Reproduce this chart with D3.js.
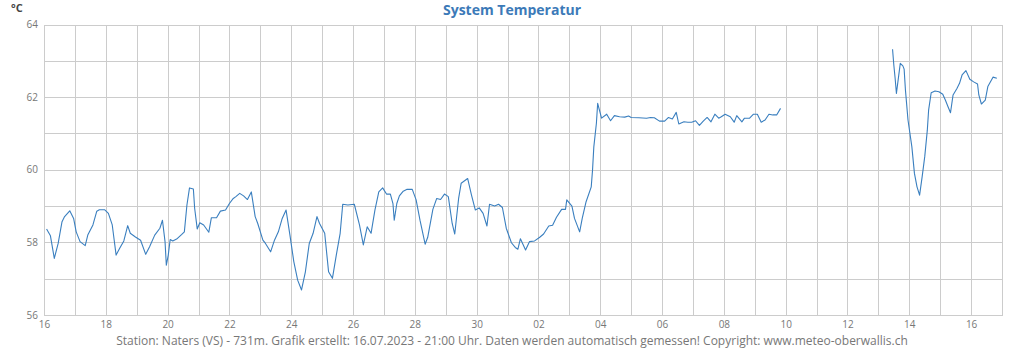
<!DOCTYPE html>
<html>
<head>
<meta charset="utf-8">
<script src="https://cdn.jsdelivr.net/npm/d3@7"></script>
<style>
  html, body { margin: 0; padding: 0; background: #fff; }
  svg { display: block; font-family: "Open Sans", sans-serif; }
</style>
</head>
<body>
<svg id="chart" width="1024" height="350"></svg>
<script>
// Station temperature readings (°C); a null marks the gap without data
const times = [
  "2023-06-16T02:00","2023-06-16T05:00","2023-06-16T08:00","2023-06-16T11:00","2023-06-16T14:00",
  "2023-06-16T16:00","2023-06-16T20:00","2023-06-16T23:00","2023-06-17T01:00","2023-06-17T04:00",
  "2023-06-17T08:00","2023-06-17T10:00","2023-06-17T14:00","2023-06-17T17:00","2023-06-17T19:00",
  "2023-06-17T23:00","2023-06-18T02:00","2023-06-18T05:00","2023-06-18T08:00","2023-06-18T11:00",
  "2023-06-18T14:00","2023-06-18T17:00","2023-06-18T19:00","2023-06-18T23:00","2023-06-19T03:00",
  "2023-06-19T07:00","2023-06-19T10:00","2023-06-19T14:00","2023-06-19T18:00","2023-06-19T20:00",
  "2023-06-19T22:00","2023-06-19T23:00","2023-06-20T00:30","2023-06-20T02:00","2023-06-20T04:00",
  "2023-06-20T07:00","2023-06-20T11:00","2023-06-20T13:00","2023-06-20T15:00","2023-06-20T17:00",
  "2023-06-20T20:00","2023-06-20T21:00","2023-06-20T23:00","2023-06-21T01:00","2023-06-21T04:00",
  "2023-06-21T08:00","2023-06-21T10:00","2023-06-21T14:00","2023-06-21T17:00","2023-06-21T21:00",
  "2023-06-22T00:00","2023-06-22T03:00","2023-06-22T05:00","2023-06-22T08:00","2023-06-22T11:00",
  "2023-06-22T14:00","2023-06-22T17:00","2023-06-22T20:00","2023-06-22T22:00","2023-06-23T02:00",
  "2023-06-23T04:00","2023-06-23T08:00","2023-06-23T11:00","2023-06-23T14:00","2023-06-23T17:00",
  "2023-06-23T20:00","2023-06-23T23:00","2023-06-24T02:00","2023-06-24T05:00","2023-06-24T08:00",
  "2023-06-24T11:00","2023-06-24T14:00","2023-06-24T17:00","2023-06-24T20:00","2023-06-24T22:00",
  "2023-06-25T02:00","2023-06-25T05:00","2023-06-25T08:00","2023-06-25T11:00","2023-06-25T14:00",
  "2023-06-25T16:00","2023-06-25T20:00","2023-06-26T01:00","2023-06-26T05:00","2023-06-26T08:00",
  "2023-06-26T11:00","2023-06-26T14:00","2023-06-26T17:00","2023-06-26T20:00","2023-06-26T23:00",
  "2023-06-27T02:00","2023-06-27T05:00","2023-06-27T07:00","2023-06-27T08:00","2023-06-27T10:00",
  "2023-06-27T12:00","2023-06-27T15:00","2023-06-27T18:00","2023-06-27T22:00","2023-06-28T01:00",
  "2023-06-28T04:00","2023-06-28T08:00","2023-06-28T10:00","2023-06-28T14:00","2023-06-28T17:00",
  "2023-06-28T20:00","2023-06-28T23:00","2023-06-29T02:00","2023-06-29T05:00","2023-06-29T07:00",
  "2023-06-29T10:00","2023-06-29T12:00","2023-06-29T17:00","2023-06-29T20:00","2023-06-29T23:00",
  "2023-06-30T02:00","2023-06-30T05:00","2023-06-30T08:00","2023-06-30T10:00","2023-06-30T14:00",
  "2023-06-30T17:00","2023-06-30T20:00","2023-06-30T23:00","2023-07-01T03:00","2023-07-01T06:00",
  "2023-07-01T08:00","2023-07-01T10:00","2023-07-01T14:00","2023-07-01T17:00","2023-07-01T21:00",
  "2023-07-02T01:00","2023-07-02T04:00","2023-07-02T08:00","2023-07-02T11:00","2023-07-02T14:00",
  "2023-07-02T18:00","2023-07-02T21:00","2023-07-02T22:00","2023-07-03T02:00","2023-07-03T04:00",
  "2023-07-03T08:00","2023-07-03T10:00","2023-07-03T13:00","2023-07-03T17:00","2023-07-03T18:00",
  "2023-07-03T19:00","2023-07-03T21:00","2023-07-03T22:00","2023-07-03T23:00","2023-07-04T01:00",
  "2023-07-04T05:00","2023-07-04T08:00","2023-07-04T11:00","2023-07-04T15:00","2023-07-04T19:00",
  "2023-07-04T22:00","2023-07-05T00:00","2023-07-05T06:00","2023-07-05T12:00","2023-07-05T15:00",
  "2023-07-05T18:00","2023-07-05T22:00","2023-07-06T02:00","2023-07-06T05:00","2023-07-06T08:00",
  "2023-07-06T11:00","2023-07-06T13:00","2023-07-06T17:00","2023-07-06T20:00","2023-07-06T23:00",
  "2023-07-07T02:00","2023-07-07T05:00","2023-07-07T08:00","2023-07-07T11:00","2023-07-07T14:00",
  "2023-07-07T17:00","2023-07-07T20:00","2023-07-07T22:00","2023-07-08T01:00","2023-07-08T05:00",
  "2023-07-08T08:00","2023-07-08T10:00","2023-07-08T14:00","2023-07-08T16:00","2023-07-08T20:00",
  "2023-07-08T23:00","2023-07-09T02:00","2023-07-09T05:00","2023-07-09T08:00","2023-07-09T11:00",
  "2023-07-09T14:00","2023-07-09T17:00","2023-07-09T20:00",
  "2023-07-11T12:00",
  "2023-07-13T11:00","2023-07-13T12:00","2023-07-13T13:00","2023-07-13T14:00","2023-07-13T15:00",
  "2023-07-13T17:00","2023-07-13T19:00","2023-07-13T20:00","2023-07-13T21:00","2023-07-13T23:00",
  "2023-07-14T02:00","2023-07-14T04:00","2023-07-14T06:00","2023-07-14T08:00","2023-07-14T10:00",
  "2023-07-14T12:00","2023-07-14T14:00","2023-07-14T15:00","2023-07-14T17:00","2023-07-14T20:00",
  "2023-07-14T23:00","2023-07-15T02:00","2023-07-15T04:00","2023-07-15T06:00","2023-07-15T08:00",
  "2023-07-15T10:00","2023-07-15T13:00","2023-07-15T15:00","2023-07-15T17:00","2023-07-15T20:00",
  "2023-07-15T23:00","2023-07-16T02:00","2023-07-16T05:00","2023-07-16T06:00","2023-07-16T08:00",
  "2023-07-16T11:00","2023-07-16T13:00","2023-07-16T17:00","2023-07-16T20:00"
];

const temps = [
  58.37,58.18,57.56,57.97,58.57, 58.71,58.87,58.66,58.29,58.02,
  57.91,58.20,58.48,58.86,58.90, 58.90,58.80,58.48,57.65,57.85,
  58.04,58.46,58.25,58.15,58.06, 57.67,57.88,58.20,58.39,58.61,
  58.02,57.37,57.65,58.08,58.04, 58.09,58.22,58.29,59.03,59.50,
  59.47,58.94,58.37,58.54,58.48, 58.28,58.68,58.68,58.86,58.89,
  59.07,59.21,59.26,59.35,59.28, 59.18,59.39,58.71,58.52,58.06,
  57.97,57.74,58.06,58.29,58.66, 58.89,58.20,57.47,56.96,56.69,
  57.19,57.97,58.25,58.71,58.52, 58.25,57.19,57.01,57.65,58.25,
  59.05,59.03,59.05,58.48,57.93, 58.43,58.25,58.89,59.39,59.50,
  59.33,59.33,59.07,58.61,59.07, 59.28,59.41,59.46,59.46,59.17,
  58.61,57.95,58.14,58.91,59.21, 59.18,59.33,59.26,58.52,58.23,
  59.21,59.63,59.76,59.30,58.89, 58.95,58.80,58.45,59.05,59.00,
  59.05,58.96,58.39,57.99,57.86, 57.81,58.10,57.79,58.02,58.04,
  58.14,58.23,58.45,58.47,58.69, 58.91,58.91,59.17,59.00,58.66,
  58.29,58.66,59.12,59.53,59.99, 60.63,61.28,61.83,61.69,61.42,
  61.53,61.35,61.49,61.46,61.45, 61.48,61.44,61.43,61.42,61.44,
  61.43,61.34,61.34,61.44,61.40, 61.58,61.26,61.32,61.31,61.31,
  61.35,61.22,61.34,61.44,61.32, 61.53,61.42,61.46,61.53,61.46,
  61.31,61.49,61.32,61.42,61.42, 61.53,61.53,61.31,61.37,61.53,
  61.51,61.51,61.69,
  null,
  63.32,62.88,62.52,62.10,62.38, 62.93,62.86,62.77,62.20,61.37,
  60.63,59.90,59.53,59.30,59.81, 60.36,61.09,61.64,62.12,62.17,
  62.15,62.08,61.92,61.74,61.57, 62.06,62.24,62.38,62.61,62.73,
  62.49,62.42,62.36,62.06,61.81, 61.92,62.29,62.55,62.52
];

const xDomain = ["2023-06-16T00:00", "2023-07-17T00:00"];
const yDomain = [56, 64];
const yTicks = [56, 57, 58, 59, 60, 61, 62, 63, 64];
const yLabelTicks = [56, 58, 60, 62, 64];

const titleText = "System Temperatur";
const unitText = "°C";
const footerText = "Station: Naters (VS) - 731m. Grafik erstellt: 16.07.2023 - 21:00 Uhr. Daten werden automatisch gemessen! Copyright: www.meteo-oberwallis.ch";

const W = 1024, H = 350;
const margin = { top: 24.5, right: 22, bottom: 35, left: 44 };
const svg = d3.select("#chart");

const parse = d3.timeParse("%Y-%m-%dT%H:%M");
const data = times.map((t, i) => ({ t: parse(t), v: temps[i] }));

const x = d3.scaleTime()
  .domain(xDomain.map(parse))
  .range([margin.left, W - margin.right]);
const y = d3.scaleLinear()
  .domain(yDomain)
  .range([H - margin.bottom, margin.top]);

// grid: one vertical line per day, one horizontal line per degree
const days = d3.timeDay.range(x.domain()[0], d3.timeDay.offset(x.domain()[1], 1));
const grid = svg.append("g").attr("stroke", "#cccccc").attr("stroke-width", 1).attr("shape-rendering", "crispEdges");
grid.selectAll("line.v").data(days).join("line")
  .attr("class", "v")
  .attr("x1", d => Math.round(x(d)) + 0.5).attr("x2", d => Math.round(x(d)) + 0.5)
  .attr("y1", y(yDomain[1])).attr("y2", y(yDomain[0]));
grid.selectAll("line.h").data(yTicks).join("line")
  .attr("class", "h")
  .attr("x1", x.range()[0]).attr("x2", x.range()[1] + 1)
  .attr("y1", d => Math.round(y(d)) + 0.5).attr("y2", d => Math.round(y(d)) + 0.5);

// y axis labels
const yAxis = d3.axisLeft(y).tickValues(yLabelTicks).tickSize(0).tickPadding(6).tickFormat(d3.format("d"));
svg.append("g").attr("transform", `translate(${margin.left},0)`).call(yAxis)
  .call(g => g.select(".domain").remove())
  .call(g => g.selectAll("text").attr("fill", "#777").attr("font-size", 10).attr("font-family", "Open Sans"));

// x axis labels, every second day
const xTickDays = days.filter((d, i) => i % 2 === 0 && d <= x.domain()[1]);
const xAxis = d3.axisBottom(x).tickValues(xTickDays).tickSize(0).tickPadding(6).tickFormat(d3.timeFormat("%d"));
svg.append("g").attr("transform", `translate(0,${H - margin.bottom})`).call(xAxis)
  .call(g => g.select(".domain").remove())
  .call(g => g.selectAll("text").attr("fill", "#777").attr("font-size", 10).attr("font-family", "Open Sans"));

// temperature line
const line = d3.line()
  .defined(d => d.v !== null)
  .x(d => x(d.t))
  .y(d => y(d.v));
svg.append("path")
  .datum(data)
  .attr("fill", "none")
  .attr("stroke", "#3a7fbf")
  .attr("stroke-width", 1.1)
  .attr("stroke-linejoin", "round")
  .attr("d", line);

// title, unit and footer
svg.append("text")
  .attr("x", 512).attr("y", 15)
  .attr("text-anchor", "middle")
  .attr("font-size", 14).attr("font-weight", "bold")
  .attr("fill", "#3c7ab8")
  .text(titleText);
svg.append("text")
  .attr("x", 11).attr("y", 12)
  .attr("font-size", 11).attr("font-weight", "bold")
  .attr("fill", "#444")
  .text(unitText);
svg.append("text")
  .attr("x", 512).attr("y", 345)
  .attr("text-anchor", "middle")
  .attr("font-size", 12)
  .attr("fill", "#777")
  .text(footerText);
</script>
</body>
</html>
